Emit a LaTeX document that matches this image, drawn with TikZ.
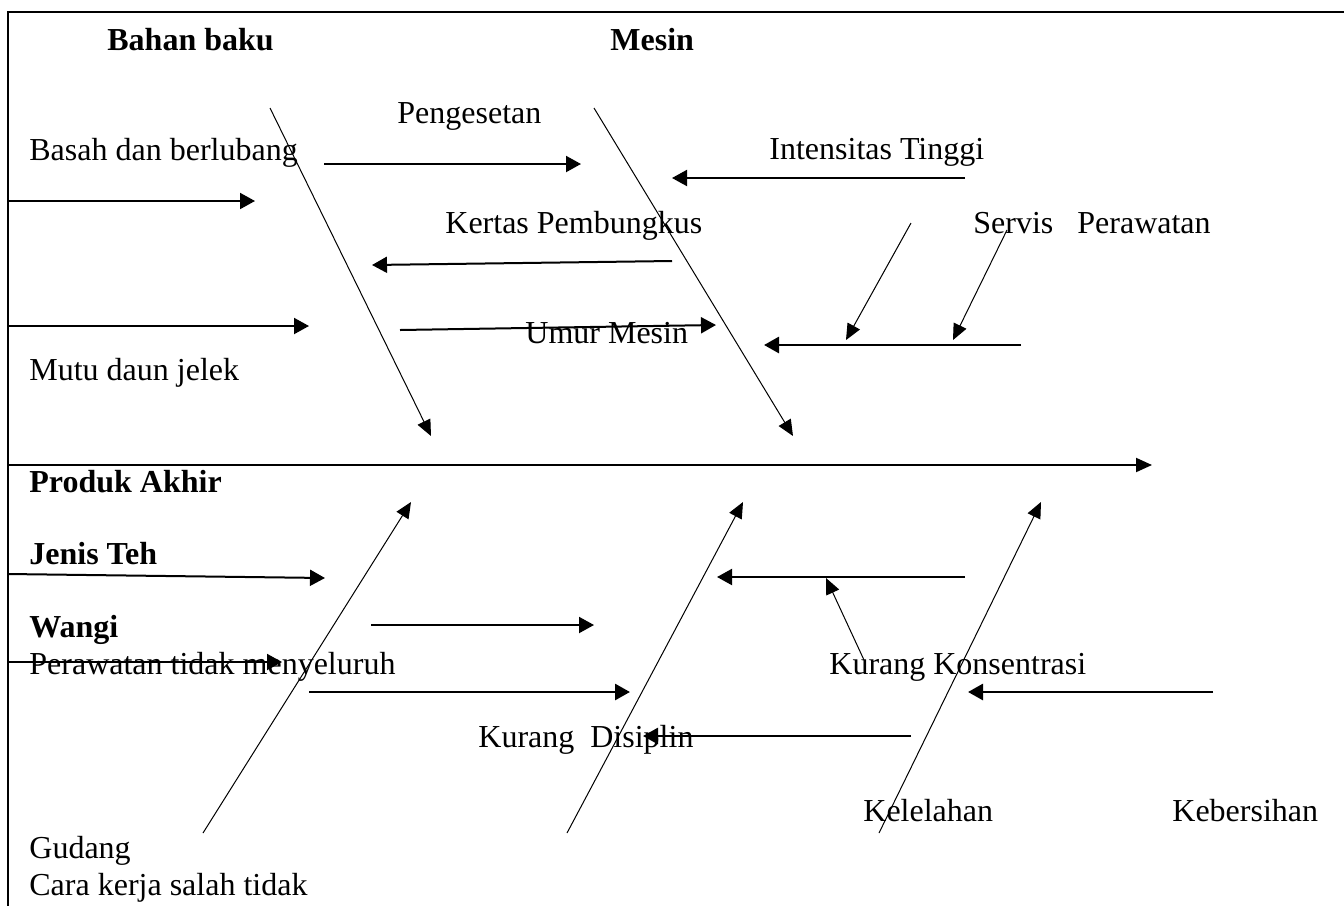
\documentclass[tikz,border=0pt]{standalone}
\usepackage{fontspec}
\setmainfont{Liberation Serif}
\usetikzlibrary{arrows.meta}

\begin{document}
\begin{tikzpicture}[
    x=0.5pt, y=-0.5pt,
    lbl/.style={anchor=base west, inner sep=0pt, font=\fontsize{16}{19}\selectfont},
    headlbl/.style={lbl, font=\fontsize{16}{19}\selectfont\bfseries},
    bone/.style={-{Triangle[length=8pt, width=7pt]}, line width=0.5pt},
    cause/.style={-{Triangle[length=7.5pt, width=8pt]}, line width=1pt},
    heavycause/.style={cause, line width=1.4pt},
    spine/.style={-{Triangle[length=8pt, width=7pt]}, line width=1pt},
  ]
  \useasboundingbox (0,0) rectangle (1344,906);
  % frame
  \draw[line width=1.2pt] (1344,12) -- (8,12) -- (8,906);

  % labels
  \node[headlbl] (bahan)  at (107,50)  {Bahan baku};
  \node[headlbl] (mesin)  at (610,50)  {Mesin};
  \node[lbl]     (peng)   at (397,123) {Pengesetan};
  \node[lbl]     (basah)  at (29,160)  {Basah dan berlubang};
  \node[lbl]     (inten)  at (769,159) {Intensitas Tinggi};
  \node[lbl]     (kertas) at (445,233) {Kertas Pembungkus};
  \node[lbl]     (servis) at (973,233) {Servis\ \ \ Perawatan};
  \node[lbl]     (umur)   at (525,343) {Umur Mesin};
  \node[lbl]     (mutu)   at (29,380)  {Mutu daun jelek};
  \node[headlbl] (produk) at (29,492)  {Produk Akhir};
  \node[headlbl] (jenis)  at (29,564)  {Jenis Teh};
  \node[headlbl] (wangi)  at (29,637)  {Wangi};
  \node[lbl]     (rawat)  at (29,674)  {Perawatan tidak menyeluruh};
  \node[lbl]     (konsen) at (829,674) {Kurang Konsentrasi};
  \node[lbl]     (disip)  at (478,747) {Kurang\ \ Disiplin};
  \node[lbl]     (lelah)  at (863,821) {Kelelahan};
  \node[lbl]     (bersih) at (1172,821) {Kebersihan};
  \node[lbl]     (gudang) at (29,858)  {Gudang};
  \node[lbl]     (cara)   at (29,895)  {Cara kerja salah tidak};

  % spine and bones
  \coordinate (sp0) at (8,465);    \coordinate (sp1) at (1152,465);
  \coordinate (b1s) at (270,108);  \coordinate (b1e) at (431,436);
  \coordinate (b2s) at (594,108);  \coordinate (b2e) at (793,436);
  \coordinate (b3s) at (203,833);  \coordinate (b3e) at (411,502);
  \coordinate (b4s) at (567,833);  \coordinate (b4e) at (743,502);
  \coordinate (b5s) at (879,833);  \coordinate (b5e) at (1041,502);

  % cause arrows
  \coordinate (c1s) at (324,164);  \coordinate (c1e) at (581,164);
  \coordinate (c2s) at (8,201);    \coordinate (c2e) at (255,201);
  \coordinate (c3s) at (965,178);  \coordinate (c3e) at (672,178);
  \coordinate (c4s) at (672,261);  \coordinate (c4e) at (372,265);
  \coordinate (c5s) at (8,326);    \coordinate (c5e) at (309,326);
  \coordinate (c6s) at (400,330);  \coordinate (c6e) at (716,325);
  \coordinate (c7s) at (1021,345); \coordinate (c7e) at (764,345);
  \coordinate (c8s) at (911,223);  \coordinate (c8e) at (846,340);
  \coordinate (c9s) at (1007,230); \coordinate (c9e) at (953,340);
  \coordinate (c10s) at (8,574);   \coordinate (c10e) at (325,578);
  \coordinate (c11s) at (371,625); \coordinate (c11e) at (594,625);
  \coordinate (c12s) at (8,662);   \coordinate (c12e) at (282,662);
  \coordinate (c13s) at (309,692); \coordinate (c13e) at (630,692);
  \coordinate (c14s) at (965,577); \coordinate (c14e) at (717,577);
  \coordinate (c15s) at (864,660); \coordinate (c15e) at (826,578);
  \coordinate (c16s) at (1213,692);\coordinate (c16e) at (968,692);
  \coordinate (c17s) at (911,736); \coordinate (c17e) at (643,736);

  \draw[spine] (sp0) -- (sp1);
  \foreach \b in {b1,b2,b3,b4,b5}
    \draw[bone] (\b s) -- (\b e);
  \foreach \c in {c1,c2,c3,c4,c5,c6,c10,c11,c12,c14}
    \draw[cause] (\c s) -- (\c e);
  \foreach \c in {c7,c13,c16,c17}
    \draw[heavycause] (\c s) -- (\c e);
  \foreach \c in {c8,c9,c15}
    \draw[bone] (\c s) -- (\c e);
\end{tikzpicture}
\end{document}
